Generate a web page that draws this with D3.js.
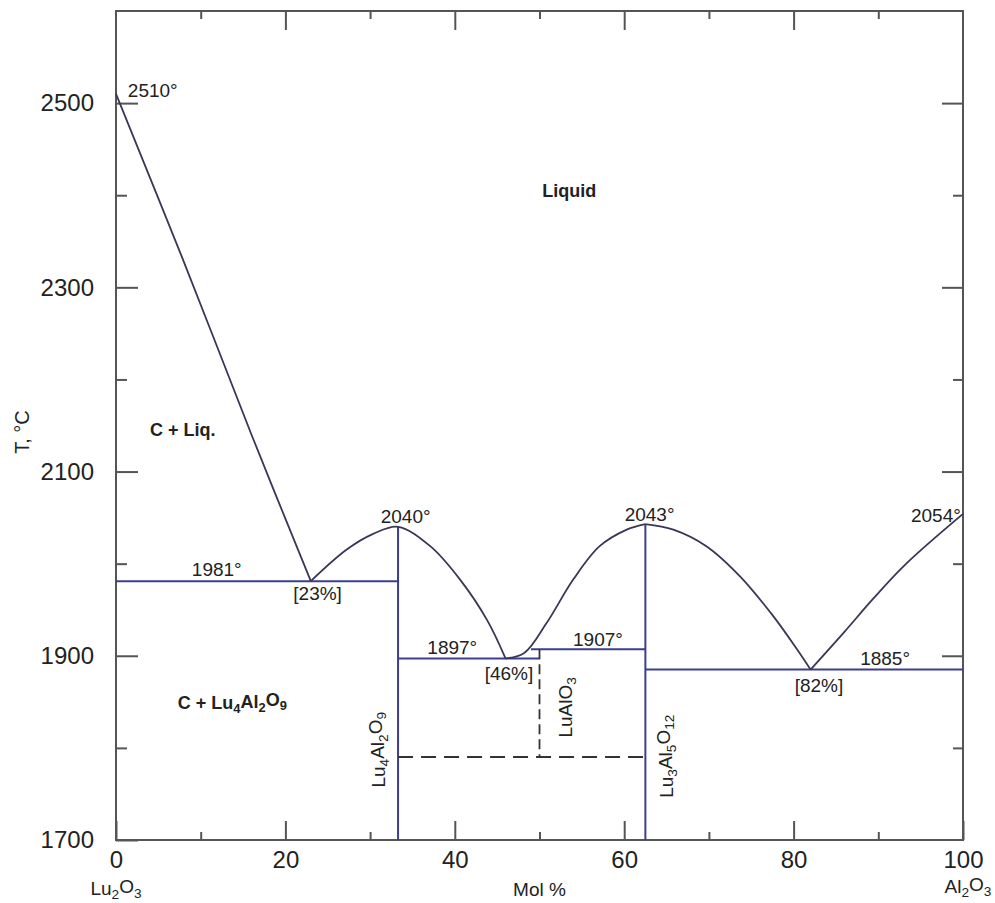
<!DOCTYPE html>
<meta charset="utf-8">
<script src="https://d3js.org/d3.v7.min.js"></script>
<style>
  body { margin: 0; background: #fff; }
  text { font-family: "Liberation Sans", Arial, sans-serif; fill: #222; }
</style>
<svg id="chart" width="995" height="903"></svg>
<script>

// liquidus curves, [mol % Al2O3, T in °C]
var liqLu2O3 = [[0, 2510], [8, 2328], [16, 2140], [23, 1981]];
var liqLu4Al2O9 = [[23, 1981], [27.2, 2015], [30.3, 2032], [33.3, 2040], [37.1, 2019], [40.6, 1983], [43.8, 1939], [46, 1897]];
var liqGarnet = [[46, 1897], [48.2, 1903], [50.8, 1935], [54, 1983], [57.1, 2019], [60.3, 2037], [62.5, 2043]];
var liqGarnetRight = [[62.5, 2043], [65.8, 2037], [69.7, 2019], [73.7, 1986], [77.6, 1943], [80.4, 1907], [82, 1885]];
var liqAl2O3 = [[82, 1885], [86, 1926], [89.4, 1962], [93.3, 2000], [100, 2054]];

// invariant lines: [T, from %, to %]
var isotherms = [[1981, 0, 33.3], [1897, 33.3, 50], [1907, 49, 62.5], [1885, 62.5, 100]];
// compounds: [mol %, T low, T high]
var compounds = [[33.3, 1700, 2040], [62.5, 1700, 2043]];
// LuAlO3 (dashed): stability range and lower limit line
var perovskite = [50, 1790, 1907];
var lowerLimit = [1790, 33.3, 62.5];

var xMajor = [0, 20, 40, 60, 80, 100];
var xMinor = [10, 30, 50, 70, 90];
var yMajor = [1700, 1900, 2100, 2300, 2500];
var yMinor = [1800, 2000, 2200, 2400];

// temperature and composition labels: [parts, mol %, T, anchor]
var notes = [
  [["2510°"], 1.4, 2507, "start"],
  [["1981°"], 11.9, 1987, "middle"],
  [["[23%]"], 23.8, 1961, "middle"],
  [["2040°"], 34.2, 2044, "middle"],
  [["1897°"], 39.7, 1902, "middle"],
  [["[46%]"], 46.4, 1874, "middle"],
  [["1907°"], 56.9, 1911, "middle"],
  [["2043°"], 63.0, 2046, "middle"],
  [["2054°"], 96.8, 2045, "middle"],
  [["1885°"], 90.8, 1890, "middle"],
  [["[82%]"], 83.0, 1861, "middle"]
];
var regions = [
  [["Liquid"], 53.5, 2398, "middle"],
  [["C + Liq."], 4.0, 2139, "start"],
  [["C + Lu", "4", "Al", "2", "O", "9"], 7.3, 1842, "start"]
];
var phases = [
  [["Lu", "4", "Al", "2", "O", "9"], 31.0, 1798],
  [["LuAlO", "3"], 53.0, 1844],
  [["Lu", "3", "Al", "5", "O", "12"], 65.0, 1791]
];

var svg = d3.select("#chart");

var x = d3.scaleLinear().domain([0, 100]).range([116, 963]);
var y = d3.scaleLinear().domain([1700, 2600]).range([840, 11]);

var lineColor = "#3d3d8f";
var curveColor = "#383856";
var axisColor = "#555";

// write text with alternating normal / subscript parts
function chem(sel, parts) {
  parts.forEach(function(p, i) {
    var t = sel.append("tspan").text(p);
    if (i % 2 == 1) t.attr("font-size", "0.72em").attr("dy", "0.3em");
    else if (i > 0) t.attr("dy", "-0.3em");
  });
}

// ticks
function ticks(axis, vals, size, tx, ty) {
  var g = svg.append("g")
    .attr("transform", "translate(" + tx + "," + ty + ")")
    .call(axis.tickValues(vals).tickSizeInner(-size).tickSizeOuter(0));
  g.select(".domain").remove();
  g.selectAll(".tick line").attr("stroke", axisColor).attr("stroke-width", 2);
  return g;
}

var gx = ticks(d3.axisBottom(x).tickPadding(11).tickFormat(d3.format("d")), xMajor, 19, 0, y(1700));
gx.selectAll("text").attr("font-size", 24).attr("fill", "#222").attr("font-family", "Liberation Sans, Arial, sans-serif");
ticks(d3.axisBottom(x).tickFormat(""), xMinor, 8, 0, y(1700));
ticks(d3.axisTop(x).tickFormat(""), xMajor.slice(1, -1), 19, 0, y(2600));
ticks(d3.axisTop(x).tickFormat(""), xMinor, 8, 0, y(2600));

var gy = ticks(d3.axisLeft(y).tickPadding(22).tickFormat(d3.format("d")), yMajor, 22, x(0), 0);
gy.selectAll("text").attr("font-size", 24).attr("fill", "#222").attr("font-family", "Liberation Sans, Arial, sans-serif");
ticks(d3.axisLeft(y).tickFormat(""), yMinor, 11, x(0), 0);
ticks(d3.axisRight(y).tickFormat(""), yMajor.slice(1), 21, x(100), 0);
ticks(d3.axisRight(y).tickFormat(""), yMinor, 10, x(100), 0);

// frame
svg.append("rect")
  .attr("x", x(0)).attr("y", y(2600))
  .attr("width", x(100) - x(0)).attr("height", y(1700) - y(2600))
  .attr("fill", "none").attr("stroke", axisColor).attr("stroke-width", 2);

// invariant lines
svg.selectAll(".iso")
  .data(isotherms)
  .enter().append("line")
    .attr("x1", function(d) { return x(d[1]); })
    .attr("x2", function(d) { return x(d[2]); })
    .attr("y1", function(d) { return y(d[0]); })
    .attr("y2", function(d) { return y(d[0]); })
    .attr("stroke", lineColor).attr("stroke-width", 2);

svg.selectAll(".cmp")
  .data(compounds)
  .enter().append("line")
    .attr("x1", function(d) { return x(d[0]); })
    .attr("x2", function(d) { return x(d[0]); })
    .attr("y1", function(d) { return y(d[1]); })
    .attr("y2", function(d) { return y(d[2]); })
    .attr("stroke", lineColor).attr("stroke-width", 2);

svg.append("line")
  .attr("x1", x(perovskite[0])).attr("x2", x(perovskite[0]))
  .attr("y1", y(perovskite[2])).attr("y2", y(perovskite[1]))
  .attr("stroke", "#333").attr("stroke-width", 1.8)
  .attr("stroke-dasharray", "10,5");

svg.append("line")
  .attr("x1", x(lowerLimit[1])).attr("x2", x(lowerLimit[2]))
  .attr("y1", y(lowerLimit[0])).attr("y2", y(lowerLimit[0]))
  .attr("stroke", "#333").attr("stroke-width", 2)
  .attr("stroke-dasharray", "15,8");

// liquidus
var line = d3.line()
  .x(function(d) { return x(d[0]); })
  .y(function(d) { return y(d[1]); })
  .curve(d3.curveCatmullRom.alpha(0.5));

[liqLu2O3, liqLu4Al2O9, liqGarnet, liqGarnetRight, liqAl2O3].forEach(function(seg) {
  svg.append("path")
    .attr("d", line(seg))
    .attr("fill", "none")
    .attr("stroke", curveColor)
    .attr("stroke-width", 1.8);
});

// labels
notes.forEach(function(n) {
  var t = svg.append("text")
    .attr("x", x(n[1])).attr("y", y(n[2]))
    .attr("text-anchor", n[3]).attr("font-size", 19);
  chem(t, n[0]);
});

regions.forEach(function(n) {
  var t = svg.append("text")
    .attr("x", x(n[1])).attr("y", y(n[2]))
    .attr("text-anchor", n[3]).attr("font-size", 18).attr("font-weight", "bold");
  chem(t, n[0]);
});

phases.forEach(function(n) {
  var t = svg.append("text")
    .attr("transform", "translate(" + x(n[1]) + "," + y(n[2]) + ") rotate(-90)")
    .attr("text-anchor", "middle").attr("dy", "0.35em").attr("font-size", 19);
  chem(t, n[0]);
});

// axis titles
var t1 = svg.append("text").attr("x", x(0)).attr("y", 895)
  .attr("text-anchor", "middle").attr("font-size", 19);
chem(t1, ["Lu", "2", "O", "3"]);
var t2 = svg.append("text").attr("x", x(100) + 5).attr("y", 893)
  .attr("text-anchor", "middle").attr("font-size", 19);
chem(t2, ["Al", "2", "O", "3"]);
svg.append("text").attr("x", x(50)).attr("y", 896)
  .attr("text-anchor", "middle").attr("font-size", 19).text("Mol %");
svg.append("text")
  .attr("transform", "translate(22,432) rotate(-90)")
  .attr("text-anchor", "middle").attr("dy", "0.35em").attr("font-size", 20)
  .text("T, °C");

</script>
